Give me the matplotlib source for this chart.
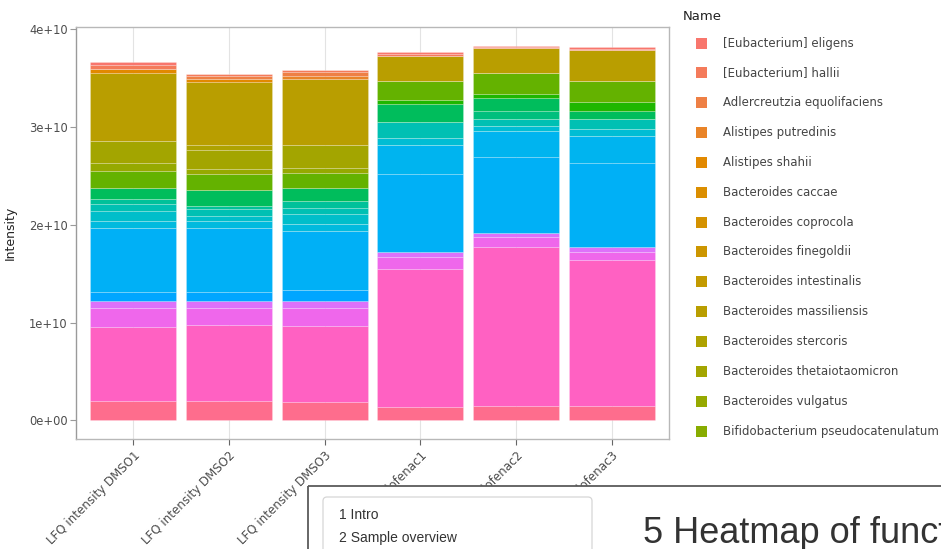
import numpy as np
import matplotlib
matplotlib.use("Agg")
import matplotlib.pyplot as plt
from matplotlib.patches import Rectangle, FancyBboxPatch
from matplotlib.ticker import FuncFormatter

plt.rcParams["font.family"] = ["DejaVu Sans"]

# ---------------------------------------------------------------- data
samples = [
    "LFQ intensity DMSO1", "LFQ intensity DMSO2", "LFQ intensity DMSO3",
    "LFQ intensity Diclofenac1", "LFQ intensity Diclofenac2", "LFQ intensity Diclofenac3",
]

species = [
    "[Eubacterium] eligens", "[Eubacterium] hallii", "Adlercreutzia equolifaciens",
    "Alistipes putredinis", "Alistipes shahii", "Bacteroides caccae",
    "Bacteroides coprocola", "Bacteroides finegoldii", "Bacteroides intestinalis",
    "Bacteroides massiliensis", "Bacteroides stercoris", "Bacteroides thetaiotaomicron",
    "Bacteroides vulgatus", "Bifidobacterium pseudocatenulatum", "Bilophila wadsworthia",
    "Blautia obeum", "Blautia wexlerae", "Butyricimonas virosa", "Clostridium bolteae",
    "Clostridium leptum", "Collinsella aerofaciens", "Coprococcus catus",
    "Coprococcus comes", "Coprococcus eutactus", "Dorea formicigenerans",
    "Dorea longicatena", "Eggerthella lenta", "Escherichia coli", "Eubacterium rectale",
    "Eubacterium siraeum", "Eubacterium ventriosum", "Faecalibacterium prausnitzii",
    "Flavonifractor plautii", "Fusicatenibacter saccharivorans", "Gemmiger formicilis",
    "Holdemania filiformis", "Intestinimonas butyriciproducens",
    "Lachnospira pectinoschiza", "Odoribacter splanchnicus",
    "Oscillibacter valericigenes", "Parabacteroides distasonis",
    "Parabacteroides merdae", "Parasutterella excrementihominis",
    "Phascolarctobacterium faecium", "Roseburia hominis", "Roseburia intestinalis",
    "Roseburia inulinivorans", "Ruminococcus bromii", "Ruminococcus gnavus",
    "Ruminococcus lactaris", "Ruminococcus torques", "Subdoligranulum variabile",
    "Sutterella wadsworthensis", "Turicibacter sanguinis", "Veillonella parvula",
]

# LFQ intensities, in units of 1e9, one value per sample
eubacterium_eligens = [0.3, 0.0, 0.0, 0.2, 0.1, 0.2]
eubacterium_hallii = [0.4, 0.2, 0.2, 0.2, 0.1, 0.2]
adlercreutzia_equolifaciens = [0.0, 0.3, 0.4, 0.0, 0.0, 0.0]
alistipes_putredinis = [0.0, 0.0, 0.3, 0.0, 0.0, 0.0]
alistipes_shahii = [0.4, 0.3, 0.0, 0.0, 0.0, 0.0]
bacteroides_massiliensis = [6.9, 6.5, 6.8, 2.5, 2.6, 3.1]
bacteroides_stercoris = [0.0, 0.5, 0.0, 0.0, 0.0, 0.0]
bacteroides_thetaiotaomicron = [2.3, 1.9, 2.3, 0.0, 0.0, 0.0]
bacteroides_vulgatus = [0.8, 0.5, 0.5, 0.0, 0.0, 0.0]
blautia_obeum = [1.8, 1.7, 1.6, 2.0, 2.1, 2.2]
butyricimonas_virosa = [0.0, 0.0, 0.0, 0.4, 0.5, 0.9]
collinsella_aerofaciens = [1.1, 1.6, 1.3, 1.8, 1.3, 0.8]
coprococcus_comes = [0.0, 0.0, 0.0, 0.0, 0.8, 0.0]
dorea_formicigenerans = [0.5, 0.3, 0.7, 0.0, 0.0, 0.0]
eggerthella_lenta = [0.7, 0.7, 0.6, 1.6, 0.7, 1.0]
eubacterium_rectale = [1.0, 0.5, 1.0, 0.0, 0.0, 0.0]
eubacterium_siraeum = [0.0, 0.0, 0.0, 0.8, 0.5, 0.7]
eubacterium_ventriosum = [0.7, 0.7, 0.7, 0.0, 0.0, 0.0]
flavonifractor_plautii = [0.0, 0.0, 0.0, 2.9, 2.7, 2.8]
fusicatenibacter_saccharivorans = [6.6, 6.6, 6.1, 8.0, 7.7, 8.6]
holdemania_filiformis = [0.9, 0.9, 1.1, 0.0, 0.0, 0.0]
phascolarctobacterium_faecium = [0.7, 0.7, 0.7, 0.5, 0.5, 0.5]
roseburia_intestinalis = [2.0, 1.8, 1.9, 1.2, 1.0, 0.8]
ruminococcus_lactaris = [7.5, 7.7, 7.7, 14.1, 16.2, 14.9]
turicibacter_sanguinis = [2.0, 2.0, 1.9, 1.4, 1.5, 1.5]

UNIT = 1e9

intensity = {
    "[Eubacterium] eligens": eubacterium_eligens,
    "[Eubacterium] hallii": eubacterium_hallii,
    "Adlercreutzia equolifaciens": adlercreutzia_equolifaciens,
    "Alistipes putredinis": alistipes_putredinis,
    "Alistipes shahii": alistipes_shahii,
    "Bacteroides massiliensis": bacteroides_massiliensis,
    "Bacteroides stercoris": bacteroides_stercoris,
    "Bacteroides thetaiotaomicron": bacteroides_thetaiotaomicron,
    "Bacteroides vulgatus": bacteroides_vulgatus,
    "Blautia obeum": blautia_obeum,
    "Butyricimonas virosa": butyricimonas_virosa,
    "Collinsella aerofaciens": collinsella_aerofaciens,
    "Coprococcus comes": coprococcus_comes,
    "Dorea formicigenerans": dorea_formicigenerans,
    "Eggerthella lenta": eggerthella_lenta,
    "Eubacterium rectale": eubacterium_rectale,
    "Eubacterium siraeum": eubacterium_siraeum,
    "Eubacterium ventriosum": eubacterium_ventriosum,
    "Flavonifractor plautii": flavonifractor_plautii,
    "Fusicatenibacter saccharivorans": fusicatenibacter_saccharivorans,
    "Holdemania filiformis": holdemania_filiformis,
    "Phascolarctobacterium faecium": phascolarctobacterium_faecium,
    "Roseburia intestinalis": roseburia_intestinalis,
    "Ruminococcus lactaris": ruminococcus_lactaris,
    "Turicibacter sanguinis": turicibacter_sanguinis,
}

legend_rows = 14


# ---------------------------------------------------------------- palette
def hcl_hex(h, c=100.0, l=65.0):
    """Polar CIE-Luv (HCL) to sRGB hex, D65 white point."""
    hr = np.deg2rad(h)
    u, v = c * np.cos(hr), c * np.sin(hr)
    xn, yn, zn = 95.047, 100.0, 108.883
    un = 4 * xn / (xn + 15 * yn + 3 * zn)
    vn = 9 * yn / (xn + 15 * yn + 3 * zn)
    y = yn * ((l + 16) / 116) ** 3 if l > 8 else yn * l / 903.3
    up = u / (13 * l) + un
    vp = v / (13 * l) + vn
    x = y * 9 * up / (4 * vp)
    z = y * (12 - 3 * up - 20 * vp) / (4 * vp)
    x, y, z = x / 100, y / 100, z / 100
    rgb = np.array([
        3.2404542 * x - 1.5371385 * y - 0.4985314 * z,
        -0.9692660 * x + 1.8760108 * y + 0.0415560 * z,
        0.0556434 * x - 0.2040259 * y + 1.0572252 * z,
    ])
    rgb = np.where(rgb <= 0.0031308, 12.92 * rgb, 1.055 * np.abs(rgb) ** (1 / 2.4) - 0.055)
    rgb = np.clip(rgb, 0, 1)
    return "#%02x%02x%02x" % tuple(int(round(ch * 255)) for ch in rgb)


def hue_palette(n, h0=15, h1=375):
    hues = np.linspace(h0, h1, n + 1)[:-1]
    return [hcl_hex(h) for h in hues]


colors = dict(zip(species, hue_palette(len(species))))

# ---------------------------------------------------------------- figure
W, H = 941, 549
fig = plt.figure(figsize=(W / 100, H / 100), dpi=100)
fig.patch.set_facecolor("white")


def fx(px):
    return px / W


def fy(py):
    return 1 - py / H


panel_l, panel_r, panel_t, panel_b = 76, 669, 27, 439
ax = fig.add_axes([fx(panel_l), fy(panel_b), fx(panel_r) - fx(panel_l), fy(panel_t) - fy(panel_b)])

x = np.arange(len(samples))
bottom = np.zeros(len(samples))
# first level sits at the top of each stack
for name in reversed(species):
    vals = np.asarray(intensity.get(name, [0.0] * len(samples))) * UNIT
    if not vals.any():
        continue
    ax.bar(x, vals, bottom=bottom, width=0.9, color=colors[name],
           edgecolor=(1, 1, 1, 0.35), linewidth=0.4, zorder=2)
    bottom += vals

ax.set_xlim(-0.6, len(samples) - 0.4)
ax.set_ylim(-0.19e10, 4.02e10)
ax.set_yticks([0, 1e10, 2e10, 3e10, 4e10])
ax.yaxis.set_major_formatter(FuncFormatter(lambda v, p: "{:.0e}".format(v)))
ax.set_xticks(x)
ax.set_xticklabels(samples, rotation=45, ha="right", rotation_mode="anchor",
                   fontsize=8.6, color="#4D4D4D")
ax.tick_params(axis="y", labelsize=8.3, labelcolor="#4D4D4D", length=4, color="#9A9A9A", pad=2)
ax.tick_params(axis="x", length=4, color="#666666", pad=3)
ax.grid(axis="x", color="#E3E3E3", linewidth=0.8, zorder=0)
ax.set_axisbelow(True)
for side, sp in ax.spines.items():
    sp.set_color("#B8B8B8")
    sp.set_linewidth(1.0)
ax.spines["left"].set_color("#9A9A9A")
ax.set_ylabel("Intensity", fontsize=9, color="#222222")
ax.yaxis.set_label_coords(fx(17 - panel_l) / fx(panel_r - panel_l), 0.5)

# legend
fig.text(fx(683), fy(17), "Name", fontsize=9.5, color="#222222", va="center", ha="left")
for k, name in enumerate(species[:legend_rows]):
    cy = 43 + k * 29.85
    fig.patches.append(Rectangle((fx(696), fy(cy + 5.5)), fx(11), 11 / H,
                                 transform=fig.transFigure, facecolor=colors[name],
                                 edgecolor="none"))
    fig.text(fx(723), fy(cy), name, fontsize=8.5, color="#444444", va="center", ha="left")

# page content overlapping the lower right of the chart
ov = fig.add_axes([0, 0, 1, 1], zorder=10)
ov.set_xlim(0, W)
ov.set_ylim(H, 0)
ov.axis("off")
ov.patch.set_alpha(0)
ov.add_patch(Rectangle((308, 486), W - 308 + 5, H - 486 + 5, facecolor="white",
                       edgecolor="none", zorder=1))
ov.plot([308, W + 2], [486, 486], color="#5A5A5A", linewidth=1.3, zorder=3,
        solid_capstyle="butt")
ov.plot([308, 308], [486, H + 2], color="#5A5A5A", linewidth=1.3, zorder=3,
        solid_capstyle="butt")
ov.add_patch(FancyBboxPatch((323, 497), 592 - 323, 70, boxstyle="round,pad=0,rounding_size=4",
                            facecolor="white", edgecolor="#D6D6D6", linewidth=0.9, zorder=2))
ov.text(339, 519, "1 Intro", fontsize=10, color="#333333", family="Liberation Sans",
        va="baseline", ha="left", zorder=4)
ov.text(339, 542, "2 Sample overview", fontsize=10, color="#333333", family="Liberation Sans",
        va="baseline", ha="left", zorder=4)
ov.text(643, 543, "5 Heatmap of funct", fontsize=26, color="#333333",
        family="Liberation Sans", va="baseline", ha="left", zorder=4)

fig.savefig("out.png", dpi=100)
